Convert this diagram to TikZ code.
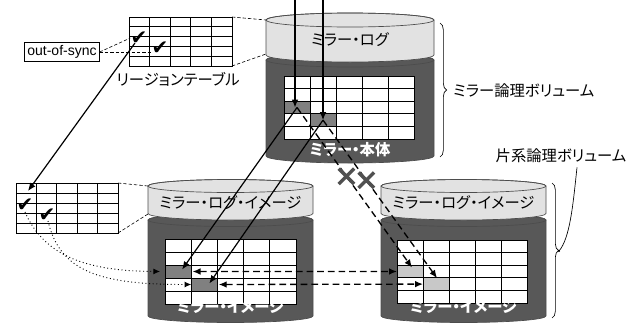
\documentclass[tikz,border=0pt]{standalone}
\usepackage{fontspec}
\setmainfont[RawFeature=+palt]{Noto Sans CJK JP}
\newfontfamily\latinfont{Liberation Sans}
\newfontfamily\symfont{DejaVu Sans}
\usetikzlibrary{arrows.meta,decorations.pathreplacing,shapes.misc}
\definecolor{darkcyl}{RGB}{88,88,88}
\definecolor{lightcyl}{RGB}{226,226,226}
\definecolor{cellmid}{RGB}{128,128,128}
\definecolor{celllight}{RGB}{200,200,200}
\definecolor{xgray}{RGB}{80,80,80}

% cylinder: cx, ytop, ybot, rx, ry, fill (pixel coords, y down)
\newcommand{\cyl}[6]{%
  \filldraw[fill=#6, draw=black!70, line width=0.5pt]
    ({#1-#4},{-#2}) -- ({#1-#4},{-#3})
    arc[start angle=180,end angle=360,x radius=#4,y radius=#5]
    -- ({#1+#4},{-#2})
    arc[start angle=0,end angle=180,x radius=#4,y radius=#5] -- cycle;
  \draw[draw=black!70, line width=0.5pt] (#1,{-#2}) ellipse[x radius=#4, y radius=#5];
}

% 5x5 grid with two shaded cells: x0,y0,x1,y1,shade,prefix
\newcommand{\cellgrid}[6]{%
  \pgfmathsetmacro{\gcw}{(#3-#1)/5}
  \pgfmathsetmacro{\grh}{(#4-#2)/5}
  \fill[white] (#1,-#2) rectangle (#3,-#4);
  \fill[#5] (#1,{-(#2+2*\grh)}) rectangle ({#1+\gcw},{-(#2+3*\grh)});
  \fill[#5] ({#1+\gcw},{-(#2+3*\grh)}) rectangle ({#1+2*\gcw},{-(#2+4*\grh)});
  \foreach \i in {1,...,4} {
    \draw[gridline] ({#1+\i*\gcw},-#2) -- ({#1+\i*\gcw},-#4);
    \draw[gridline] (#1,{-(#2+\i*\grh)}) -- (#3,{-(#2+\i*\grh)});
  }
  \draw[gridline] (#1,-#2) rectangle (#3,-#4);
  \coordinate (#6a) at ({#1+0.5*\gcw},{-(#2+2.5*\grh)});
  \coordinate (#6b) at ({#1+1.5*\gcw},{-(#2+3.5*\grh)});
  \coordinate (#6aL) at (#1,{-(#2+2.5*\grh)});
  \coordinate (#6aR) at ({#1+\gcw},{-(#2+2.5*\grh)});
  \coordinate (#6bL) at ({#1+\gcw},{-(#2+3.5*\grh)});
  \coordinate (#6bR) at ({#1+2*\gcw},{-(#2+3.5*\grh)});
}

% region table: x0,y0,x1,y1,prefix
\newcommand{\regtable}[5]{%
  \pgfmathsetmacro{\gcw}{(#3-#1)/5}
  \pgfmathsetmacro{\grh}{(#4-#2)/5}
  \fill[white] (#1,-#2) rectangle (#3,-#4);
  \foreach \i in {1,...,4} {
    \draw[tabline] ({#1+\i*\gcw},-#2) -- ({#1+\i*\gcw},-#4);
    \draw[tabline] (#1,{-(#2+\i*\grh)}) -- (#3,{-(#2+\i*\grh)});
  }
  \draw[tabline] (#1,-#2) rectangle (#3,-#4);
  \coordinate (#5ne) at (#3,-#2);
  \coordinate (#5se) at (#3,-#4);
}

\begin{document}
\begin{tikzpicture}[x=0.75pt,y=0.75pt,
  every node/.style={inner sep=0pt},
  gridline/.style={black, line width=0.75pt},
  tabline/.style={black, line width=0.6pt},
  solidarrow/.style={line width=0.9pt, -{Latex[length=6pt,width=5pt]}},
  dasharrow/.style={line width=1pt, dash pattern=on 5pt off 3pt, -{Latex[length=6pt,width=5pt]}},
  dbldash/.style={line width=1pt, dash pattern=on 5pt off 3pt, {Latex[length=6pt,width=5pt]}-{Latex[length=6pt,width=5pt]}},
  dotarrow/.style={line width=0.7pt, dotted, -{Latex[length=5pt,width=4.5pt]}},
  thindash/.style={line width=0.45pt, dash pattern=on 2.5pt off 1.5pt},
  checkmk/.style={font=\symfont\fontsize{15}{15}\selectfont},
  lbl/.style={font=\fontsize{11.5}{13}\selectfont},
  biglbl/.style={font=\fontsize{11.5}{13}\selectfont},
  wlbl/.style={font=\fontsize{11.5}{13}\selectfont\bfseries, text=white},
  xmk/.style={cross out, draw=xgray, solid, line width=2.6pt, minimum size=9pt},
  bracedeco/.style={decorate, decoration={brace, amplitude=5pt}, line width=0.5pt},
]
\useasboundingbox (0,0) rectangle (641,-325);

% ---------- region table (top left)
\regtable{129}{17}{232}{66}{ta}
\node[checkmk] (ck1) at (139,-38) {✔};
\node[checkmk] (ck2) at (160,-48) {✔};
\node[lbl] (rtlabel) at (178,-79) {リージョンテーブル};
\node[draw, line width=0.5pt, inner sep=2pt, font=\latinfont\fontsize{10.5}{12}\selectfont] (oos) at (62,-52) {out-of-sync};
\draw[thindash] (oos.east) -- (ck1.west);
\draw[thindash] (oos.east) -- ([yshift=-3]ck2.west);

% ---------- top cylinder (mirror logical volume)
\cyl{350}{60}{156}{84}{7}{darkcyl}
\cellgrid{284}{76}{414}{139}{cellmid}{top}
\node[wlbl] (mbody) at (350,-150) {ミラー・本体};
\cyl{350}{20}{55}{84}{7}{lightcyl}
\node[lbl] (mlog) at (350,-40) {ミラー・ログ};
\coordinate (toplognw) at (266,-20);
\coordinate (toplogsw) at (266,-54);

% ---------- bottom left cylinder
\cyl{230.5}{220}{316}{82.5}{6.5}{darkcyl}
\cellgrid{165}{239}{296}{304}{cellmid}{bl}
\node[wlbl] (img1) at (230.5,-307) {ミラー・イメージ};
\cyl{230.5}{186}{213.5}{82.5}{6.5}{lightcyl}
\node[lbl] (logimg1) at (230.5,-203) {ミラー・ログ・イメージ};
\coordinate (bllognw) at (148,-186);
\coordinate (bllogsw) at (148,-214);

% ---------- bottom right cylinder
\cyl{463.5}{220}{316}{82.5}{6.5}{darkcyl}
\cellgrid{397}{240}{527}{303}{celllight}{br}
\node[wlbl] (img2) at (463.5,-307) {ミラー・イメージ};
\cyl{463.5}{186}{213.5}{82.5}{6.5}{lightcyl}
\node[lbl] (logimg2) at (463.5,-203) {ミラー・ログ・イメージ};

% ---------- region table (bottom left)
\regtable{16}{183}{118}{233}{tb}
\node[checkmk] (ck3) at (25,-205) {✔};
\node[checkmk] (ck4) at (47,-215) {✔};
\coordinate (tbcell) at (28,-191);

% table-to-log dashed connectors
\draw[thindash] (tane) -- (toplognw);
\draw[thindash] (tase) -- (toplogsw);
\draw[thindash] (tbne) -- (bllognw);
\draw[thindash] (tbse) -- (bllogsw);

% ---------- connectors
\coordinate (in1) at (295,0);
\coordinate (in2) at (323,0);
\draw[solidarrow] (in1) -- (in1 |- topa);
\draw[solidarrow] (in2) -- (in2 |- topb);

\draw[solidarrow] ([shift={(-4,-5)}]ck1.center) -- (tbcell);

\draw[solidarrow] (topa) -- ([shift={(4,2)}]bla);
\draw[solidarrow] (topb) -- ([shift={(5,1)}]blb);

\draw[dasharrow] (topa) -- node[xmk, pos=0.43] (x1) {} ([shift={(2,4)}]bra);
\draw[dasharrow] (topb) -- node[xmk, pos=0.38] (x2) {} ([shift={(1,6)}]brb);

\draw[dbldash] ([xshift=1]blaR) -- (braL);
\draw[dbldash] ([xshift=1]blbR) -- (brbL);

\coordinate (blin) at (160,-271.5);
\draw[dotarrow] ([shift={(0,-7)}]ck3.center) .. controls (45,-258) and (90,-271) .. (blin);
\draw[dotarrow] ([shift={(1,-6)}]ck4.center) .. controls (60,-272) and (100,-284.5) .. (blbL);

% ---------- braces and volume labels
\draw[bracedeco] (440,-23) -- (440,-157);
\node[biglbl, anchor=west] (mlv) at (453,-91) {ミラー論理ボリューム};
\draw[bracedeco] (552,-183) -- (552,-318);
\node[biglbl] (hlv) at (561,-156) {片系論理ボリューム};
\coordinate (brtip) at (559,-251);
\fill (brtip) circle (1.2);
\draw[line width=0.5pt] (brtip) .. controls (570,-238) and (573,-205) .. ([xshift=12,yshift=-3]hlv.south);

\end{tikzpicture}
\end{document}
